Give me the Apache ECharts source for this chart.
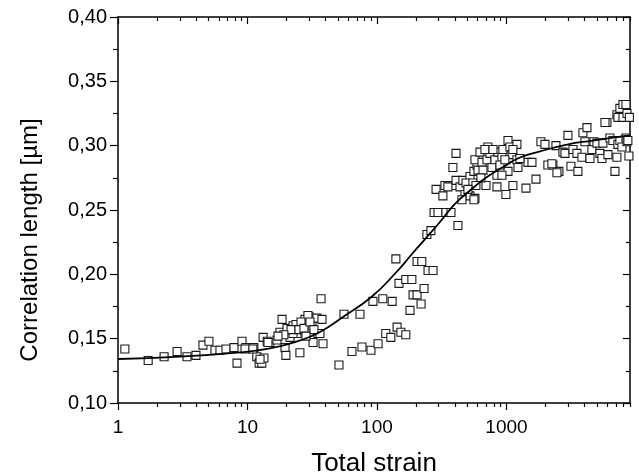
<!DOCTYPE html>
<html>
<head>
<meta charset="utf-8">
<script src="https://cdn.jsdelivr.net/npm/echarts@6/dist/echarts.min.js"></script>
<style>
html,body{margin:0;padding:0;background:#fff;}
#chart{width:639px;height:475px;}
</style>
</head>
<body>
<div id="chart"></div>
<script>
// ---- data ----
const strain = [
  1.13,1.71,2.27,2.86,3.41,4.0,4.53,5.04,5.61,6.13,6.82,7.87,8.3,9.07,9.73,11.2,11.8,12.3,12.9,13.4,
  13.2,14.2,14.9,16.9,18.5,17.8,19.5,19.8,20.2,21.3,22.5,24.1,25.4,26.4,27.8,29.9,31.5,32.1,34.4,35.0,
  37.0,37.6,38.3,36.3,23.7,29.3,25.9,9.57,11.0,12.5,14.4,22.5,21.7,25.0,27.3,30.4,32.6,28.3,19.1,17.2,
  50.9,55.6,64.1,73.9,76.6,89.9,102,93.1,111,131,117,128,143,153,167,140,148,167,186,190,
  204,180,219,231,204,222,248,271,243,261,276,296,341,373,422,286,323,335,366,386,
  408,438,461,386,408,478,523,571,523,561,592,571,624,603,647,659,707,719,746,773,
  815,845,859,923,939,1028,1064,1102,1205,1205,1227,1028,923,845,991,1122,1415,1466,487,551,
  353,453,561,695,635,682,787,891,973,1122,581,504,
  1690,1574,1271,1846,1982,2089,2284,2543,2411,2731,2831,2985,3148,3266,3565,3502,3828,3898,4188,4036,
  4416,4571,4742,5000,5272,5461,5559,6081,6297,6637,6887,7129,7262,7516,7798,8375,8531,8670,8831,5970,
  5768,7129,7516,7943,8375,7262,7943,8531,8900,2455,2244
];
const corrLen = [
  0.142,0.133,0.136,0.140,0.136,0.137,0.145,0.148,0.141,0.141,0.142,0.143,0.131,0.148,0.143,0.143,0.136,0.131,0.131,0.135,
  0.151,0.148,0.147,0.149,0.165,0.155,0.143,0.137,0.158,0.151,0.160,0.154,0.139,0.162,0.165,0.167,0.160,0.147,0.166,0.154,
  0.181,0.165,0.146,0.154,0.161,0.168,0.163,0.142,0.142,0.134,0.147,0.154,0.157,0.157,0.158,0.163,0.157,0.152,0.153,0.152,
  0.1295,0.169,0.140,0.169,0.1435,0.141,0.146,0.179,0.181,0.179,0.154,0.151,0.159,0.155,0.153,0.212,0.193,0.196,0.196,0.184,
  0.184,0.172,0.177,0.189,0.210,0.210,0.203,0.203,0.231,0.234,0.248,0.248,0.248,0.248,0.238,0.266,0.261,0.269,0.269,0.269,
  0.273,0.268,0.273,0.283,0.294,0.262,0.261,0.259,0.276,0.280,0.285,0.289,0.295,0.281,0.287,0.281,0.289,0.299,0.294,0.283,
  0.289,0.277,0.295,0.291,0.297,0.304,0.299,0.293,0.301,0.289,0.283,0.280,0.277,0.268,0.262,0.269,0.267,0.287,0.271,0.271,
  0.268,0.258,0.258,0.269,0.275,0.297,0.297,0.285,0.289,0.297,0.269,0.266,
  0.274,0.287,0.290,0.303,0.301,0.285,0.285,0.280,0.300,0.295,0.294,0.308,0.284,0.297,0.280,0.294,0.291,0.310,0.314,0.303,
  0.290,0.297,0.303,0.302,0.294,0.290,0.302,0.293,0.306,0.304,0.280,0.291,0.301,0.304,0.299,0.306,0.303,0.304,0.292,0.318,
  0.318,0.324,0.329,0.332,0.332,0.322,0.322,0.325,0.322,0.279,0.286
];
// fitted curve
const fitStrain = [1, 3.01, 8.3, 14.9, 25.4, 36.3, 54.6, 91.5, 142.7, 186.3, 238.9, 306.5, 400.3, 522.5, 707, 956, 1271, 1814, 2933, 4656, 7135, 9000];
const fitLen    = [0.1342, 0.1361, 0.1392, 0.1424, 0.1486, 0.1552, 0.1668, 0.1828, 0.2022, 0.2158, 0.2282, 0.2407, 0.2547, 0.2652, 0.2756, 0.2838, 0.2908, 0.2955, 0.3009, 0.3040, 0.3067, 0.3079];
// ticks
const xMajorTicks = [1, 10, 100, 1000];
const xMinorTicks = [2,3,4,5,6,7,8,9, 20,30,40,50,60,70,80,90, 200,300,400,500,600,700,800,900, 2000,3000,4000,5000,6000,7000,8000,9000];
const xMin = 1, xMax = 9000;
const yMin = 0.10, yMax = 0.40, yStep = 0.05;

const font = "'Liberation Sans', Arial, Helvetica, sans-serif";
const black = '#000';

function logAxis(pos, major, tickLen, inside, showLine, showLabel) {
  return {
    type: 'log', logBase: 10, min: xMin, max: xMax, position: pos, gridIndex: 0,
    splitLine: {show: false},
    axisLine: {show: showLine, onZero: false, lineStyle: {color: black, width: 1.5}},
    axisTick: {show: true, inside: inside, length: tickLen, lineStyle: {color: black, width: 1.2},
               customValues: major ? xMajorTicks : xMinorTicks},
    axisLabel: {show: showLabel, customValues: xMajorTicks, margin: 15, fontSize: 19, color: black,
                fontFamily: font, formatter: v => String(Math.round(v))}
  };
}

const xAxes = [
  Object.assign(logAxis('bottom', true, 7, false, true, true), {
    name: 'Total strain', nameLocation: 'middle', nameGap: 48,
    nameTextStyle: {fontSize: 26, color: black, fontFamily: font}
  }),
  logAxis('bottom', false, 4, false, false, false),
  logAxis('top', true, 7, true, true, false),
  logAxis('top', false, 4, true, false, false)
];

const yAxes = [
  {
    type: 'value', min: yMin, max: yMax, interval: yStep, position: 'left',
    splitLine: {show: false},
    axisLine: {show: true, onZero: false, lineStyle: {color: black, width: 1.5}},
    axisTick: {show: true, inside: false, length: 8, lineStyle: {color: black, width: 1.2}},
    minorTick: {show: true, splitNumber: 2, length: 5, lineStyle: {color: black, width: 1.2}},
    axisLabel: {margin: 11, fontSize: 20, color: black, fontFamily: font,
                formatter: v => v.toFixed(2).replace('.', ',')},
    name: 'Correlation length [µm]', nameLocation: 'middle', nameGap: 76,
    nameTextStyle: {fontSize: 24, color: black, fontFamily: font, padding: [0, 60, 0, 0]}
  },
  {
    type: 'value', min: yMin, max: yMax, interval: yStep, position: 'right',
    splitLine: {show: false},
    axisLine: {show: true, onZero: false, lineStyle: {color: black, width: 1.5}},
    axisTick: {show: true, inside: true, length: 7, lineStyle: {color: black, width: 1.2}},
    minorTick: {show: true, splitNumber: 2, length: 4, lineStyle: {color: black, width: 1.2}},
    axisLabel: {show: false}
  }
];

const chart = echarts.init(document.getElementById('chart'), null, {renderer: 'canvas'});
chart.setOption({
  animation: false,
  backgroundColor: '#fff',
  grid: {left: 118, right: 9, top: 17, bottom: 72, containLabel: false, outerBoundsMode: 'none'},
  xAxis: xAxes,
  yAxis: yAxes,
  series: [
    {
      type: 'scatter', xAxisIndex: 0, yAxisIndex: 0,
      data: strain.map((s, i) => [s, corrLen[i]]),
      symbol: 'rect', symbolSize: 8,
      itemStyle: {color: '#fff', borderColor: '#1a1a1a', borderWidth: 1.1, opacity: 1},
      z: 2, silent: true
    },
    {
      type: 'line', xAxisIndex: 0, yAxisIndex: 0,
      data: fitStrain.map((s, i) => [s, fitLen[i]]),
      smooth: 0.5, showSymbol: false, symbol: 'none',
      lineStyle: {color: black, width: 1.8},
      z: 3, silent: true
    }
  ]
});
</script>
</body>
</html>
